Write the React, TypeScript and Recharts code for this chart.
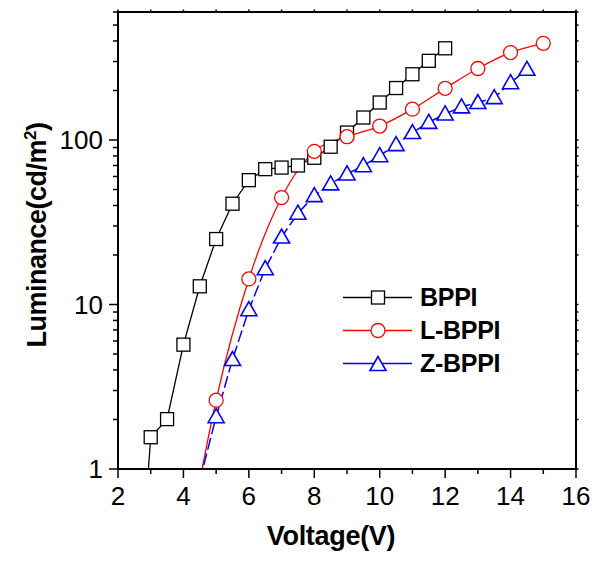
import React from 'react';
import { LineChart, Line, XAxis, YAxis, Legend, Label, ReferenceLine } from 'recharts';

// BPPI
const voltageBPPI = [2.5, 3, 3.5, 4, 4.5, 5, 5.5, 6, 6.5, 7, 7.5, 8, 8.5, 9, 9.5, 10, 10.5, 11, 11.5, 12];
const lumBPPI = [0.065, 1.56, 2.01, 5.7, 12.9, 25, 41, 57, 66.5, 68, 70, 78, 91, 111, 137, 169, 207, 251, 303, 361];

// L-BPPI
const voltageLBPPI = [4.5, 5, 6, 7, 8, 9, 10, 11, 12, 13, 14, 15];
const lumLBPPI = [0.85, 2.62, 14.3, 44.7, 85.3, 104.7, 121.6, 154, 206, 272, 340, 387];

// Z-BPPI
const voltageZBPPI = [4.5, 5, 5.5, 6, 6.5, 7, 7.5, 8, 8.5, 9, 9.5, 10, 10.5, 11, 11.5, 12, 12.5, 13, 13.5, 14, 14.5];
const lumZBPPI = [0.85, 2.08, 4.63, 9.3, 16.5, 25.7, 35.9, 45.9, 54.1, 62.2, 69.8, 80.3, 93.7, 111, 128, 144, 159, 169, 181, 223, 269];

const xTicks = [2, 3, 4, 5, 6, 7, 8, 9, 10, 11, 12, 13, 14, 15, 16];
const xLabels = [2, 4, 6, 8, 10, 12, 14, 16];
const yTicks = [1, 2, 3, 4, 5, 6, 7, 8, 9, 10, 20, 30, 40, 50, 60, 70, 80, 90, 100, 200, 300, 400, 500, 600];
const yLabels = [1, 10, 100];

const zip = (xs: number[], ys: number[]) => xs.map((v, i) => ({ v, L: ys[i] }));
const dataBPPI = zip(voltageBPPI, lumBPPI);
const dataLBPPI = zip(voltageLBPPI, lumLBPPI);
const dataZBPPI = zip(voltageZBPPI, lumZBPPI);

const FONT = 'Liberation Sans, Arial, sans-serif';
const PLOT_TOP = 12;
const PLOT_RIGHT = 576;

const SquareDot = (props: any) => {
  const { cx, cy } = props;
  if (cx == null || cy == null) return null;
  return <rect x={cx - 6.5} y={cy - 6.5} width={13} height={13} fill="#fff" stroke="#000" strokeWidth={1.3} />;
};

const CircleDot = (props: any) => {
  const { cx, cy } = props;
  if (cx == null || cy == null) return null;
  return <circle cx={cx} cy={cy} r={7} fill="#fff" stroke="#ff0000" strokeWidth={1.3} />;
};

const TriangleDot = (props: any) => {
  const { cx, cy } = props;
  if (cx == null || cy == null) return null;
  return (
    <polygon
      points={`${cx},${cy - 8} ${cx - 8},${cy + 6} ${cx + 8},${cy + 6}`}
      fill="#fff"
      stroke="#0000ff"
      strokeWidth={1.6}
    />
  );
};

const XTick = (props: any) => {
  const { x, y, payload } = props;
  const major = xLabels.includes(payload.value);
  return (
    <g>
      <line x1={x} x2={x} y1={y} y2={y + (major ? 9 : 5)} stroke="#000" strokeWidth={1.5} />
      <line x1={x} x2={x} y1={PLOT_TOP} y2={PLOT_TOP - 2.5} stroke="#000" strokeWidth={1.5} />
      {major && (
        <text x={x} y={y + 36} textAnchor="middle" fontFamily={FONT} fontSize={26} fill="#000">
          {payload.value}
        </text>
      )}
    </g>
  );
};

const YTick = (props: any) => {
  const { x, y, payload } = props;
  const major = yLabels.includes(payload.value);
  return (
    <g>
      <line x1={x} x2={x - (major ? 9 : 5)} y1={y} y2={y} stroke="#000" strokeWidth={1.5} />
      <line x1={PLOT_RIGHT} x2={PLOT_RIGHT + 2.5} y1={y} y2={y} stroke="#000" strokeWidth={1.5} />
      {major && (
        <text x={x - 15} y={y + 9} textAnchor="end" fontFamily={FONT} fontSize={26} fill="#000">
          {payload.value}
        </text>
      )}
    </g>
  );
};

const legendItems = [
  { name: 'BPPI', color: '#000', marker: 'square' },
  { name: 'L-BPPI', color: '#ff0000', marker: 'circle' },
  { name: 'Z-BPPI', color: '#0000ff', marker: 'triangle' },
];

const renderLegend = () => (
  <div style={{ fontFamily: FONT }}>
    {legendItems.map(item => (
      <div key={item.name} style={{ display: 'flex', alignItems: 'center', height: 33 }}>
        <svg width={70} height={33}>
          <line x1={0} x2={69} y1={16.5} y2={16.5} stroke={item.color} strokeWidth={1.5} />
          {item.marker === 'square' && <SquareDot cx={35} cy={16.5} />}
          {item.marker === 'circle' && <CircleDot cx={35} cy={16.5} />}
          {item.marker === 'triangle' && <TriangleDot cx={35} cy={17.5} />}
        </svg>
        <span style={{ marginLeft: 7, fontSize: 25, fontWeight: 'bold', color: '#000', letterSpacing: -0.3 }}>
          {item.name}
        </span>
      </div>
    ))}
  </div>
);

export default function App() {
  return (
    <div style={{ position: 'absolute', left: 0, top: 0, background: '#fff' }}>
      <LineChart width={593} height={561} margin={{ top: 12, right: 17, bottom: 12, left: 18 }}>
        <XAxis
          dataKey="v"
          type="number"
          domain={[2, 16]}
          ticks={xTicks}
          interval={0}
          tickLine={false}
          tickSize={0}
          tickMargin={0}
          tick={<XTick />}
          axisLine={{ stroke: '#000', strokeWidth: 2 }}
          height={80}
          allowDataOverflow
        >
          <Label
            content={() => (
              <text x={331} y={545} textAnchor="middle" fontFamily={FONT} fontSize={27} fontWeight="bold" letterSpacing={-0.3} fill="#000">
                Voltage(V)
              </text>
            )}
          />
        </XAxis>
        <YAxis
          dataKey="L"
          type="number"
          scale="log"
          domain={[1, 600]}
          ticks={yTicks}
          interval={0}
          tickLine={false}
          tickSize={0}
          tickMargin={0}
          tick={<YTick />}
          axisLine={{ stroke: '#000', strokeWidth: 2 }}
          width={100}
          allowDataOverflow
        >
          <Label
            content={() => (
              <text transform="translate(46,235) rotate(-90)" textAnchor="middle" fontFamily={FONT} fontSize={27} fontWeight="bold" letterSpacing={-0.5} fill="#000">
                Luminance(cd/m
                <tspan dy={-10} fontSize={17}>2</tspan>
                <tspan dy={10} fontSize={27}>)</tspan>
              </text>
            )}
          />
        </YAxis>
        <ReferenceLine y={600} stroke="#000" strokeWidth={2} />
        <ReferenceLine x={16} stroke="#000" strokeWidth={2} />
        <Legend
          layout="vertical"
          align="center"
          verticalAlign="middle"
          wrapperStyle={{ left: 343, top: 281, width: 200 }}
          content={renderLegend}
        />
        <Line
          data={dataBPPI}
          dataKey="L"
          name="BPPI"
          type="linear"
          stroke="#000"
          strokeWidth={1.3}
          dot={<SquareDot />}
          activeDot={false}
          isAnimationActive={false}
        />
        <Line
          data={dataLBPPI}
          dataKey="L"
          name="L-BPPI"
          type="monotone"
          stroke="#ff0000"
          strokeWidth={1.3}
          dot={<CircleDot />}
          activeDot={false}
          isAnimationActive={false}
        />
        <Line
          data={dataZBPPI}
          dataKey="L"
          name="Z-BPPI"
          type="linear"
          stroke="#0000ff"
          strokeWidth={1.5}
          strokeDasharray="12 4"
          dot={<TriangleDot />}
          activeDot={false}
          isAnimationActive={false}
        />
      </LineChart>
    </div>
  );
}
